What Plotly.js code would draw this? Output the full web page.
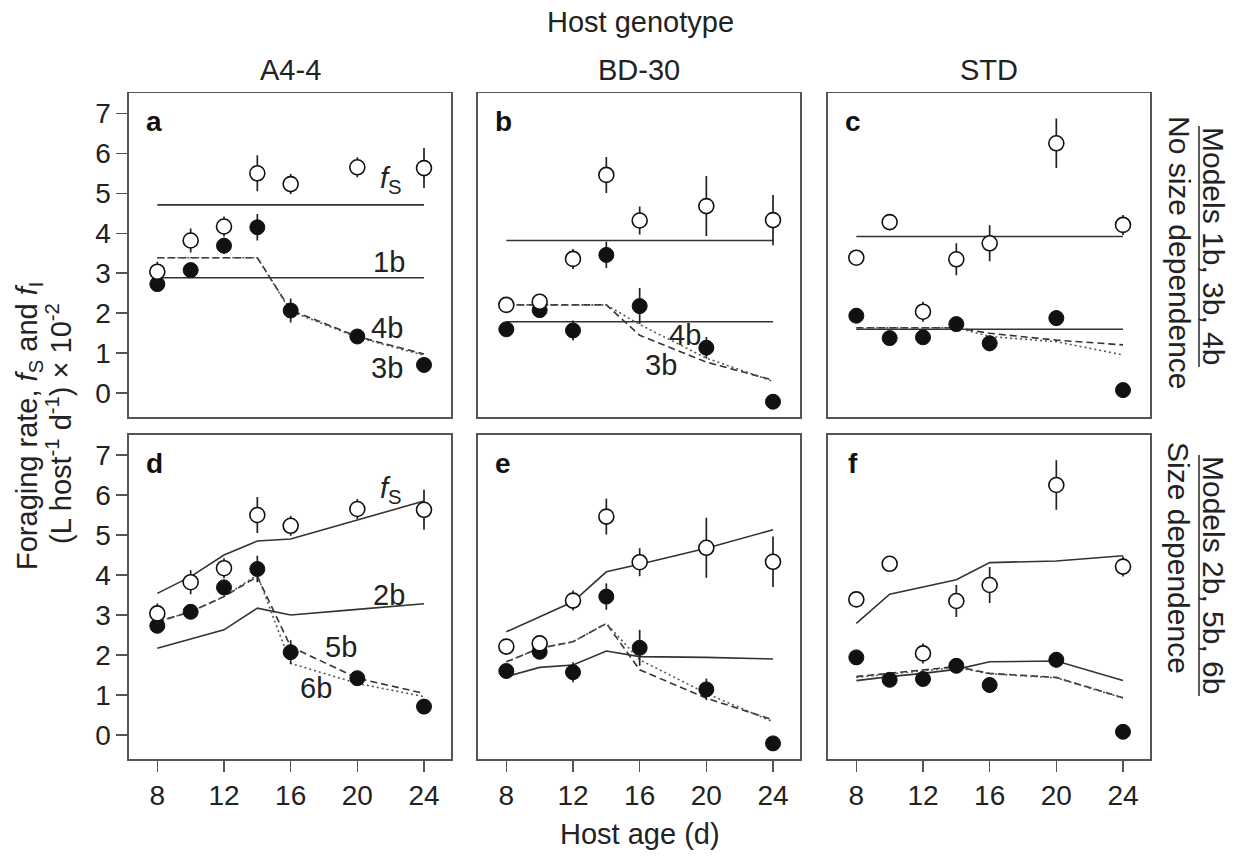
<!DOCTYPE html>
<html>
<head>
<meta charset="utf-8">
<script src="https://cdn.plot.ly/plotly-3.0.1.min.js"></script>
<style>html,body{margin:0;padding:0;background:#fff;}#chart{width:1238px;height:859px;}</style>
</head>
<body>
<div id="chart"></div>
<script>
// ---------- data ----------
const days = [8, 10, 12, 14, 16, 20, 24];
const xTicks = [8, 12, 16, 20, 24];
const yTicks = [0, 1, 2, 3, 4, 5, 6, 7];
const genotypes = ['A4-4', 'BD-30', 'STD'];
const panelLetters = ['a', 'b', 'c', 'd', 'e', 'f'];

// observed foraging rates (open = fS, filled = fI) and error half-widths
const fS_A44    = [3.04, 3.82, 4.17, 5.50, 5.23, 5.65, 5.63];
const fS_A44_se = [0.25, 0.30, 0.25, 0.45, 0.25, 0.25, 0.50];
const fI_A44    = [2.73, 3.08, 3.69, 4.15, 2.07, 1.42, 0.71];
const fI_A44_se = [0.12, 0.15, 0.20, 0.33, 0.30, 0.12, 0.12];

const fS_BD30    = [2.21, 2.29, 3.36, 5.46, 4.32, 4.68, 4.33];
const fS_BD30_se = [0.15, 0.15, 0.25, 0.45, 0.35, 0.75, 0.63];
const fI_BD30    = [1.60, 2.08, 1.57, 3.46, 2.18, 1.14, -0.21];
const fI_BD30_se = [0.10, 0.15, 0.25, 0.33, 0.45, 0.27, 0.10];

const fS_STD    = [3.39, 4.28, 2.04, 3.35, 3.75, 6.25, 4.21];
const fS_STD_se = [0.00, 0.00, 0.25, 0.40, 0.45, 0.62, 0.25];
const fI_STD    = [1.94, 1.38, 1.40, 1.73, 1.25, 1.88, 0.08];
const fI_STD_se = [0.10, 0.10, 0.12, 0.12, 0.20, 0.20, 0.10];

// models without size dependence (1b solid, 3b dashed, 4b dotted)
const m1b_fS_A44 = [4.71, 4.71, 4.71, 4.71, 4.71, 4.71, 4.71];
const m1b_fI_A44 = [2.89, 2.89, 2.89, 2.89, 2.89, 2.89, 2.89];
const m3b_A44    = [3.39, 3.39, 3.39, 3.39, 2.08, 1.42, 0.98];
const m4b_A44    = [3.39, 3.39, 3.39, 3.39, 2.05, 1.40, 0.95];

const m1b_fS_BD30 = [3.82, 3.82, 3.82, 3.82, 3.82, 3.82, 3.82];
const m1b_fI_BD30 = [1.79, 1.79, 1.79, 1.79, 1.79, 1.79, 1.79];
const m3b_BD30    = [2.21, 2.21, 2.21, 2.21, 1.45, 0.78, 0.33];
const m4b_BD30    = [2.21, 2.21, 2.21, 2.21, 1.72, 0.88, 0.30];

const m1b_fS_STD = [3.92, 3.92, 3.92, 3.92, 3.92, 3.92, 3.92];
const m1b_fI_STD = [1.60, 1.60, 1.60, 1.60, 1.60, 1.60, 1.60];
const m3b_STD    = [1.64, 1.64, 1.64, 1.64, 1.50, 1.33, 1.21];
const m4b_STD    = [1.64, 1.64, 1.64, 1.64, 1.42, 1.29, 0.96];

// models with size dependence (2b solid, 5b dashed, 6b dotted)
const m2b_fS_A44 = [3.54, 3.96, 4.50, 4.85, 4.90, 5.38, 5.85];
const m2b_fI_A44 = [2.17, 2.40, 2.63, 3.17, 3.00, 3.14, 3.28];
const m5b_A44    = [2.83, 3.08, 3.46, 3.96, 2.21, 1.42, 1.04];
const m6b_A44    = [2.83, 3.08, 3.46, 4.00, 1.79, 1.29, 0.96];

const m2b_fS_BD30 = [2.58, 2.96, 3.33, 4.08, 4.27, 4.67, 5.13];
const m2b_fI_BD30 = [1.46, 1.69, 1.75, 2.10, 1.96, 1.94, 1.90];
const m5b_BD30    = [1.83, 2.17, 2.33, 2.79, 1.63, 0.92, 0.38];
const m6b_BD30    = [1.83, 2.17, 2.33, 2.79, 1.88, 1.04, 0.33];

const m2b_fS_STD = [2.79, 3.52, 3.70, 3.88, 4.31, 4.35, 4.48];
const m2b_fI_STD = [1.36, 1.46, 1.54, 1.64, 1.83, 1.85, 1.36];
const m5b_STD    = [1.46, 1.54, 1.63, 1.71, 1.54, 1.44, 0.93];
const m6b_STD    = [1.44, 1.52, 1.61, 1.69, 1.53, 1.43, 0.92];

// ---------- build ----------
const INK = '#222';
const LINE = '#333';
const FONT = 'Liberation Sans, Arial, Helvetica, sans-serif';
const FS = 29;
const TICKFS = 28;

const panels = [
  {obs: [fS_A44, fS_A44_se, fI_A44, fI_A44_se], solid: [m1b_fS_A44, m1b_fI_A44], dashed: m3b_A44, dotted: m4b_A44},
  {obs: [fS_BD30, fS_BD30_se, fI_BD30, fI_BD30_se], solid: [m1b_fS_BD30, m1b_fI_BD30], dashed: m3b_BD30, dotted: m4b_BD30},
  {obs: [fS_STD, fS_STD_se, fI_STD, fI_STD_se], solid: [m1b_fS_STD, m1b_fI_STD], dashed: m3b_STD, dotted: m4b_STD},
  {obs: [fS_A44, fS_A44_se, fI_A44, fI_A44_se], solid: [m2b_fS_A44, m2b_fI_A44], dashed: m5b_A44, dotted: m6b_A44},
  {obs: [fS_BD30, fS_BD30_se, fI_BD30, fI_BD30_se], solid: [m2b_fS_BD30, m2b_fI_BD30], dashed: m5b_BD30, dotted: m6b_BD30},
  {obs: [fS_STD, fS_STD_se, fI_STD, fI_STD_se], solid: [m2b_fS_STD, m2b_fI_STD], dashed: m5b_STD, dotted: m6b_STD}
];

const W = 1238, H = 859;
const colPx = [[129, 451], [478, 800], [828, 1150]];
const rowPx = [[93.3, 417.3], [435, 759]];
const xRange = [6.3, 25.62];
const yRange = [-0.6, 7.5];

const traces = [];
const layout = {
  width: W, height: H,
  margin: {l: 0, r: 0, t: 0, b: 0},
  paper_bgcolor: '#fff', plot_bgcolor: '#fff',
  showlegend: false,
  font: {family: FONT, color: INK, size: FS},
  annotations: [],
  shapes: []
};

panels.forEach((p, i) => {
  const n = i + 1;
  const sfx = n === 1 ? '' : String(n);
  const xa = 'x' + sfx, ya = 'y' + sfx;
  const col = i % 3, row = Math.floor(i / 3);

  p.solid.forEach(s => traces.push({x: days, y: s, xaxis: xa, yaxis: ya, mode: 'lines',
    line: {color: LINE, width: 1.6}, hoverinfo: 'skip'}));
  traces.push({x: days, y: p.dashed, xaxis: xa, yaxis: ya, mode: 'lines',
    line: {color: LINE, width: 1.6, dash: '7px,4px'}, hoverinfo: 'skip'});
  traces.push({x: days, y: p.dotted, xaxis: xa, yaxis: ya, mode: 'lines',
    line: {color: '#555', width: 1.6, dash: '2px,3px'}, hoverinfo: 'skip'});

  // fI filled
  traces.push({x: days, y: p.obs[2], xaxis: xa, yaxis: ya, mode: 'markers',
    error_y: {type: 'data', array: p.obs[3], visible: true, width: 0, thickness: 1.7, color: '#222'},
    marker: {size: 15, color: '#111', line: {color: '#111', width: 1}}});
  // fS open
  traces.push({x: days, y: p.obs[0], xaxis: xa, yaxis: ya, mode: 'markers',
    error_y: {type: 'data', array: p.obs[1], visible: true, width: 0, thickness: 1.7, color: '#222'},
    marker: {size: 15, color: '#fff', line: {color: '#111', width: 1.6}}});

  layout['xaxis' + sfx] = {
    domain: [colPx[col][0] / W, colPx[col][1] / W], range: xRange, anchor: ya,
    showline: true, mirror: true, linecolor: '#555', linewidth: 1.6,
    showgrid: false, zeroline: false, fixedrange: true,
    tickmode: 'array', tickvals: xTicks,
    ticks: row === 1 ? 'outside' : '', ticklen: 11, tickwidth: 1.6, tickcolor: '#555',
    showticklabels: row === 1, tickfont: {size: TICKFS, color: INK, family: FONT}
  };
  layout['yaxis' + sfx] = {
    domain: [1 - rowPx[row][1] / H, 1 - rowPx[row][0] / H], range: yRange, anchor: xa,
    showline: true, mirror: true, linecolor: '#555', linewidth: 1.6,
    showgrid: false, zeroline: false, fixedrange: true,
    tickmode: 'array', tickvals: yTicks,
    ticks: col === 0 ? 'outside' : '', ticklen: 11, tickwidth: 1.6, tickcolor: '#555',
    showticklabels: col === 0, tickfont: {size: TICKFS, color: INK, family: FONT}
  };

  layout.annotations.push({xref: xa, yref: ya, x: 7.8, y: 6.8, text: '<b>' + panelLetters[i] + '</b>',
    showarrow: false, xanchor: 'center', yanchor: 'middle', font: {size: 28, color: '#111'}});
});

// in-panel model labels
const lab = (n, x, y, t) => {
  const sfx = n === 1 ? '' : String(n);
  layout.annotations.push({xref: 'x' + sfx, yref: 'y' + sfx, x: x, y: y, text: t, showarrow: false,
    xanchor: 'center', yanchor: 'middle', font: {size: FS, color: INK}});
};
lab(1, 22.0, 5.33, '<i>f</i><sub>S</sub>');
lab(1, 21.9, 3.29, '1b');
lab(1, 21.8, 1.63, '4b');
lab(1, 21.8, 0.63, '3b');
lab(2, 18.7, 1.46, '4b');
lab(2, 17.3, 0.71, '3b');
lab(4, 22.0, 6.12, '<i>f</i><sub>S</sub>');
lab(4, 21.9, 3.50, '2b');
lab(4, 19.0, 2.21, '5b');
lab(4, 17.5, 1.17, '6b');

const paperText = (x, y, t, angle, extraFont) => {
  layout.annotations.push({xref: 'paper', yref: 'paper', x: x / W, y: 1 - y / H, text: t, textangle: angle || 0,
    showarrow: false, xanchor: 'center', yanchor: 'middle',
    font: Object.assign({size: FS, color: INK, family: FONT}, extraFont || {})});
};
const underline = (x, y0, y1) => layout.shapes.push({type: 'line', xref: 'paper', yref: 'paper',
  x0: x / W, x1: x / W, y0: 1 - y0 / H, y1: 1 - y1 / H, line: {color: '#333', width: 1.6}});

// column titles
genotypes.forEach((g, c) => paperText((colPx[c][0] + colPx[c][1]) / 2, 70, g));
paperText(640, 22, 'Host genotype');
paperText(640, 834, 'Host age (d)');
// y title (two lines)
paperText(29, 426, 'Foraging rate, <i>f</i><sub>S</sub> and <i>f</i><sub>I</sub>', -90);
paperText(59, 424, '(L host<sup>-1</sup> d<sup>-1</sup>) × 10<sup>-2</sup>', -90);
// row labels on right
paperText(1214, 246, 'Models 1b, 3b, 4b', 90, {size: 30});
paperText(1179, 253, 'No size dependence', 90, {size: 30});
paperText(1214, 575, 'Models 2b, 5b, 6b', 90, {size: 30});
paperText(1179, 558, 'Size dependence', 90, {size: 30});
underline(1199, 126, 367);
underline(1199, 455, 696);

Plotly.newPlot('chart', traces, layout, {displayModeBar: false, staticPlot: true});
</script>
</body>
</html>
